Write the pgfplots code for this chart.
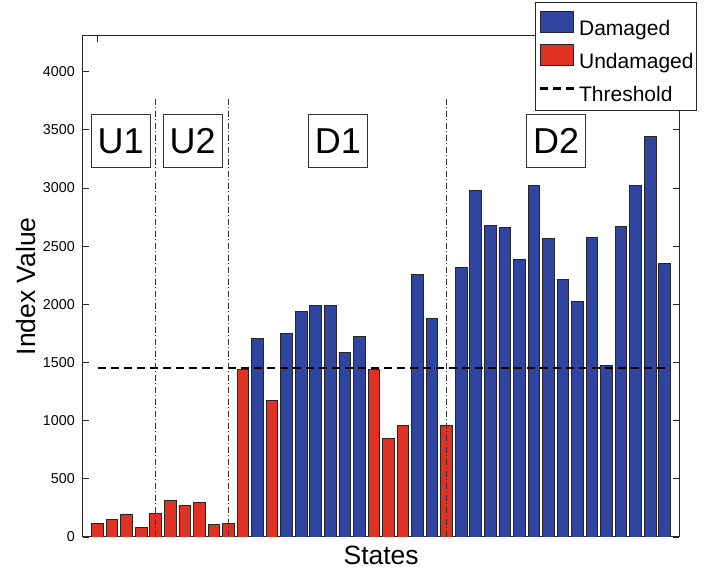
\documentclass[border=0pt]{standalone}
\usepackage{fontspec}
\setmainfont{Liberation Sans}
\usepackage{pgfplots}
\pgfplotsset{compat=1.18}
\definecolor{dblue}{RGB}{48,69,160}
\definecolor{ured}{RGB}{224,50,36}
\begin{document}
\begin{tikzpicture}
\useasboundingbox (-83pt,-32pt) rectangle (621pt,537pt);
\begin{axis}[
  at={(0pt,0pt)}, anchor=south west,
  scale only axis, width=596.3pt, height=501.3pt,
  xmin=0, xmax=41, ymin=0, ymax=4310,
  ytick={0,500,...,4000},
  xtick={1}, xticklabels={},
  tick align=inside, major tick length=6pt,
  ytick pos=both, yticklabel pos=left,
  xtick pos=both,
  axis line style={line width=1pt, black!85},
  every tick/.style={line width=0.9pt, black!85},
  /pgf/number format/1000 sep={},
  /pgf/number format/assume math mode=true,
  yticklabel style={font=\fontsize{14.3}{16}\selectfont, inner xsep=0pt, xshift=-8pt},
  ylabel={Index Value}, xlabel={States},
  ylabel style={font=\fontsize{26.5}{30}\selectfont, at={(axis description cs:-0.0956,0.5)}, anchor=center, rotate=0},
  xlabel style={font=\fontsize{26.5}{30}\selectfont, at={(axis description cs:0.5,-0.0545)}, anchor=base, inner sep=0pt},
  legend style={at={(axis description cs:1.0297,1.0672)}, anchor=north east,
    draw=black!85, line width=0.9pt, font=\fontsize{21}{25}\selectfont,
    inner xsep=3pt, inner ysep=4pt, row sep=0pt, column sep=4pt,
    nodes={inner sep=0pt, text height=16pt, text depth=4.5pt}},
  legend cell align=left,
]
\addplot[ybar, bar width=0.8, bar shift=0pt, fill=dblue, draw=black!85, line width=0.9pt,
  legend image code/.code={\path[draw=none, fill=none] (0pt,-4.5pt) rectangle (1pt,23pt); \draw[fill=dblue, draw=black!85, line width=0.9pt, solid] (0pt,-2.5pt) rectangle (33pt,18.5pt);}]
coordinates {
(12,1706) (14,1746) (15,1941) (16,1987) (17,1990) (18,1589) (19,1720)
(23,2254) (24,1878)
(26,2320) (27,2979) (28,2675) (29,2661) (30,2386) (31,3019) (32,2566)
(33,2217) (34,2027) (35,2572) (36,1474) (37,2669) (38,3022) (39,3447) (40,2354)
};
\addlegendentry{Damaged}
\addplot[ybar, bar width=0.8, bar shift=0pt, fill=ured, draw=black!85, line width=0.9pt,
  legend image code/.code={\path[draw=none, fill=none] (0pt,-4.5pt) rectangle (1pt,23pt); \draw[fill=ured, draw=black!85, line width=0.9pt, solid] (0pt,-2.5pt) rectangle (33pt,18.5pt);}]
coordinates {
(1,120) (2,152) (3,198) (4,80) (5,200) (6,318) (7,272) (8,295) (9,106) (10,120)
(11,1437) (13,1176) (20,1442) (21,846) (22,958) (25,958)
};
\addlegendentry{Undamaged}
\addplot[black, line width=2.2pt, dash pattern=on 8pt off 5pt,
  legend image code/.code={\path[draw=none, fill=none] (0pt,-4.5pt) rectangle (1pt,23pt); \draw[black, line width=2.2pt, dash pattern=on 8pt off 5pt] (0pt,7.5pt) -- (34pt,7.5pt);}]
coordinates {(1,1450) (40,1450)};
\addlegendentry{Threshold}
\addplot[forget plot, black!80, line width=0.8pt, dash pattern=on 6pt off 2.5pt on 1pt off 2.5pt] coordinates {(5,0) (5,3785)};
\addplot[forget plot, black!80, line width=0.8pt, dash pattern=on 6pt off 2.5pt on 1pt off 2.5pt] coordinates {(10,0) (10,3785)};
\addplot[forget plot, black!80, line width=0.8pt, dash pattern=on 6pt off 2.5pt on 1pt off 2.5pt] coordinates {(25,0) (25,3785)};
\tikzset{lab/.style={draw=black!80, line width=0.8pt, fill=white, minimum width=59pt, minimum height=53pt, inner sep=0pt, font=\fontsize{36}{40}\selectfont}}
\node[lab] at (axis cs:2.58,3404) {U1};
\node[lab] at (axis cs:7.54,3404) {U2};
\node[lab] at (axis cs:17.53,3404) {D1};
\node[lab] at (axis cs:32.54,3404) {D2};
\end{axis}
\end{tikzpicture}
\end{document}
